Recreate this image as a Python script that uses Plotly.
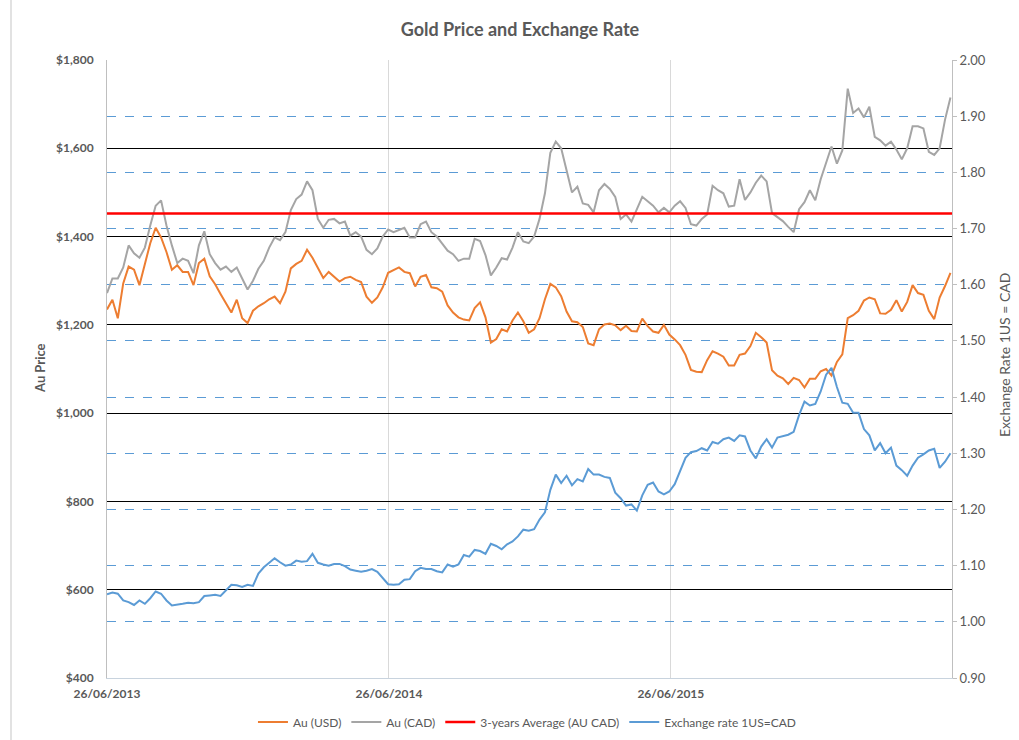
import pandas as pd
import plotly.graph_objects as go

# Weekly closes, starting 26/06/2013
START = "2013-06-26"
END = "2016-06-24"

au_usd = [
    1235, 1257, 1215, 1294, 1332, 1325, 1290, 1340, 1385, 1420,
    1398, 1365, 1325, 1335, 1320, 1320, 1290, 1340, 1350, 1310,
    1292, 1270, 1250, 1228, 1257, 1215, 1204, 1232, 1242, 1249,
    1258, 1264, 1249, 1275, 1328, 1338, 1345, 1370, 1352, 1328,
    1306, 1320, 1310, 1298, 1306, 1309, 1302, 1297, 1264, 1250,
    1262, 1285, 1318, 1324, 1330, 1320, 1317, 1287, 1309, 1313,
    1285, 1283, 1275, 1244, 1228, 1217, 1212, 1210, 1238, 1251,
    1217, 1160, 1168, 1190, 1185, 1210, 1228, 1208, 1182, 1190,
    1215, 1258, 1293, 1285, 1265, 1230, 1208, 1206, 1195, 1158,
    1154, 1190, 1201, 1203, 1199, 1188, 1198, 1186, 1185, 1214,
    1197, 1185, 1182, 1200, 1178, 1167, 1154, 1132, 1098, 1094,
    1093, 1120, 1140, 1135, 1128, 1108, 1108, 1132, 1135, 1152,
    1182, 1172, 1160, 1097, 1085, 1079, 1066, 1080, 1075, 1058,
    1078, 1078, 1095, 1100, 1085, 1116, 1133, 1215, 1222, 1232,
    1255, 1262, 1258, 1226, 1225, 1234, 1256, 1230, 1252, 1290,
    1272, 1268, 1232, 1213, 1262, 1288, 1318,
]

au_cad = [
    1272, 1305, 1305, 1330, 1380, 1362, 1352, 1375, 1425, 1470,
    1482, 1425, 1380, 1340, 1350, 1345, 1317, 1380, 1412, 1360,
    1340, 1325, 1332, 1320, 1330, 1305, 1280, 1300, 1327, 1345,
    1375, 1398, 1392, 1410, 1460, 1485, 1495, 1525, 1505, 1440,
    1420, 1438, 1440, 1430, 1434, 1402, 1410, 1400, 1370, 1360,
    1373, 1400, 1416, 1410, 1415, 1420, 1398, 1398, 1428, 1434,
    1410, 1400, 1384, 1368, 1360, 1345, 1350, 1350, 1395, 1390,
    1358, 1312, 1330, 1351, 1348, 1375, 1410, 1389, 1385, 1400,
    1440, 1498, 1590, 1615, 1600, 1550, 1500, 1513, 1475, 1472,
    1455, 1505, 1519, 1508, 1490, 1440, 1450, 1434, 1460, 1490,
    1480, 1470, 1455, 1465, 1455, 1470, 1480, 1465, 1428, 1425,
    1440, 1450, 1515, 1505, 1498, 1468, 1470, 1530, 1483, 1500,
    1522, 1538, 1525, 1453, 1444, 1435, 1422, 1410, 1462, 1478,
    1505, 1482, 1530, 1566, 1604, 1565, 1595, 1735, 1680, 1690,
    1670, 1694, 1626, 1618, 1606, 1615, 1597, 1575, 1600, 1650,
    1650, 1645, 1592, 1585, 1600, 1665, 1715,
]

usd_cad = [
    1.049, 1.052, 1.050, 1.038, 1.035, 1.030, 1.038, 1.032, 1.042, 1.054,
    1.050, 1.038, 1.029, 1.030, 1.032, 1.034, 1.033, 1.035, 1.046, 1.047,
    1.048, 1.046, 1.056, 1.066, 1.065, 1.062, 1.066, 1.064, 1.086, 1.097,
    1.105, 1.113, 1.106, 1.100, 1.102, 1.109, 1.107, 1.108, 1.121, 1.105,
    1.102, 1.100, 1.103, 1.103, 1.099, 1.093, 1.091, 1.089, 1.091, 1.094,
    1.089, 1.078, 1.067, 1.066, 1.067, 1.075, 1.076, 1.090, 1.096, 1.094,
    1.094, 1.090, 1.088, 1.102, 1.098, 1.102, 1.119, 1.116, 1.128, 1.126,
    1.121, 1.139, 1.135, 1.129, 1.138, 1.143, 1.152, 1.164, 1.162, 1.165,
    1.182, 1.195, 1.235, 1.262, 1.247, 1.260, 1.243, 1.254, 1.250, 1.272,
    1.262, 1.262, 1.258, 1.256, 1.230, 1.220, 1.207, 1.209, 1.198, 1.225,
    1.244, 1.248, 1.232, 1.227, 1.232, 1.245, 1.270, 1.292, 1.302, 1.304,
    1.309, 1.305, 1.320, 1.317, 1.325, 1.328, 1.322, 1.332, 1.330, 1.305,
    1.291, 1.312, 1.325, 1.310, 1.328, 1.331, 1.333, 1.338, 1.368, 1.392,
    1.385, 1.388, 1.410, 1.440, 1.452, 1.418, 1.390, 1.388, 1.372, 1.372,
    1.343, 1.332, 1.305, 1.318, 1.300, 1.310, 1.278, 1.270, 1.260, 1.278,
    1.292, 1.298, 1.305, 1.308, 1.274, 1.285, 1.300,
]

avg_3y_au_cad = 1452

x_tick_dates = ["2013-06-26", "2014-06-26", "2015-06-26"]
x_tick_labels = ["26/06/2013", "26/06/2014", "26/06/2015"]

dates = pd.date_range(START, periods=len(au_usd), freq="7D")

TXT = "#595959"
FONT = "Lato, 'Open Sans', sans-serif"

fig = go.Figure()
fig.add_trace(go.Scatter(x=dates, y=au_usd, name="Au (USD)", mode="lines",
                         line=dict(color="#ED7D31", width=2)))
fig.add_trace(go.Scatter(x=dates, y=au_cad, name="Au (CAD)", mode="lines",
                         line=dict(color="#A5A5A5", width=2)))
fig.add_trace(go.Scatter(x=[START, END], y=[avg_3y_au_cad, avg_3y_au_cad],
                         name="3-years Average (AU CAD)", mode="lines",
                         line=dict(color="#FF0000", width=2.5)))
fig.add_trace(go.Scatter(x=dates, y=usd_cad, name="Exchange rate 1US=CAD",
                         mode="lines", yaxis="y2",
                         line=dict(color="#5B9BD5", width=2)))

W, H = 1019, 740
L, R, T, B = 107, 67, 60, 62
pw, ph = W - L - R, H - T - B


def px_x(p):
    return (p - L) / pw


def px_y(p):
    return (H - B - p) / ph


fig.update_layout(
    width=W, height=H,
    margin=dict(l=L, r=R, t=T, b=B, autoexpand=False),
    paper_bgcolor="white", plot_bgcolor="white",
    font=dict(family=FONT, color=TXT, size=12),
    title=dict(text="Gold Price and Exchange Rate", x=520 / W, xanchor="center",
               y=1 - 30 / H, yanchor="middle",
               font=dict(size=18, weight="bold", color=TXT, family=FONT)),
    showlegend=True,
    legend=dict(orientation="h", x=0.497, xanchor="center", y=px_y(722),
                yanchor="middle", font=dict(size=12, color=TXT),
                itemwidth=30, bgcolor="rgba(0,0,0,0)"),
    xaxis=dict(type="date", range=[START, END], tickvals=x_tick_dates,
               ticktext=x_tick_labels, showgrid=True, gridcolor="#D9D9D9",
               gridwidth=1, showline=True, linecolor="#C8D3DE", linewidth=1,
               ticks="", zeroline=False, ticklabelstandoff=5, automargin=False,
               tickfont=dict(size=12, weight="bold", color=TXT)),
    yaxis=dict(range=[400, 1800], dtick=200, tick0=400, tickprefix="$",
               tickformat=",", showgrid=True, gridcolor="#000000", gridwidth=1,
               showline=True, linecolor="#BFBFBF", linewidth=1, zeroline=False,
               ticks="", ticklabelstandoff=10, automargin=False,
               tickfont=dict(size=12, weight="bold", color=TXT)),
    yaxis2=dict(range=[0.9, 2.0], dtick=0.1, tick0=0.9, tickformat=".2f",
                overlaying="y", side="right", showgrid=True,
                gridcolor="#5B9BD5", gridwidth=1, griddash="dash",
                showline=True, linecolor="#BFBFBF", linewidth=1,
                ticks="outside", ticklen=4, tickcolor="#BFBFBF",
                zeroline=False, automargin=False,
                tickfont=dict(size=13, color=TXT)),
    annotations=[
        dict(text="Au Price", xref="paper", yref="paper", x=px_x(40),
             y=px_y(368), xanchor="center", yanchor="middle", textangle=-90,
             showarrow=False, font=dict(size=13, weight="bold", color=TXT)),
        dict(text="Exchange Rate 1US = CAD", xref="paper", yref="paper",
             x=px_x(1004), y=px_y(355), xanchor="center", yanchor="middle",
             textangle=-90, showarrow=False, font=dict(size=14, color=TXT)),
    ],
    shapes=[
        dict(type="line", xref="paper", yref="paper", x0=px_x(11), x1=px_x(11),
             y0=px_y(H), y1=px_y(0), line=dict(color="#D9D9D9", width=1.5)),
    ],
)

fig.write_html("out.html")
